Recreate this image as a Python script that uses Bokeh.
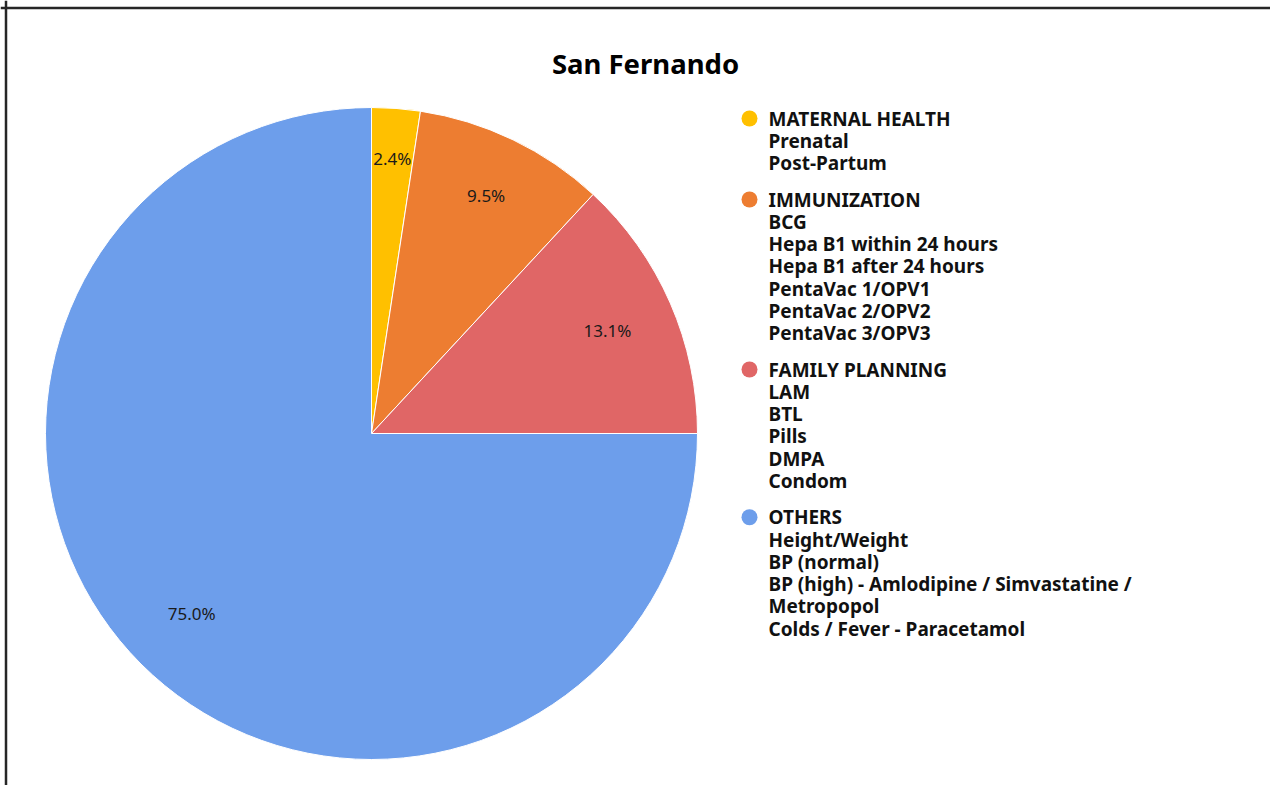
import math
from bokeh.plotting import figure
from bokeh.models import Range1d, ColumnDataSource, Span
from bokeh.core.properties import value
from bokeh.embed import file_html
from bokeh.resources import INLINE

# ---- data ----
title_text = "San Fernando"
categories = ["MATERNAL HEALTH", "IMMUNIZATION", "FAMILY PLANNING", "OTHERS"]
shares = [2.4, 9.5, 13.1, 75.0]
sub_items = [
    ["Prenatal", "Post-Partum"],
    ["BCG", "Hepa B1 within 24 hours", "Hepa B1 after 24 hours",
     "PentaVac 1/OPV1", "PentaVac 2/OPV2", "PentaVac 3/OPV3"],
    ["LAM", "BTL", "Pills", "DMPA", "Condom"],
    ["Height/Weight", "BP (normal)", "BP (high) - Amlodipine / Simvastatine /",
     "Metropopol", "Colds / Fever - Paracetamol"],
]
colors = ["#FFC000", "#ED7D31", "#E06666", "#6D9EEB"]

# ---- layout (pixels, y measured from top) ----
W, H = 1270, 785
FONT = "Noto Sans"
def Y(top):
    return H - top
cx, cy, R = 371, Y(433), 326
label_frac = [0.845, 0.81, 0.79, 0.78]

p = figure(width=W, height=H, output_backend="svg", toolbar_location=None,
           x_range=Range1d(0, W), y_range=Range1d(0, H), min_border=0)
p.axis.visible = False
p.grid.visible = False
p.outline_line_color = None
p.background_fill_color = "white"

# frame border (left and top only visible in the reference)
p.add_layout(Span(location=5.5, dimension="height", line_color="#262626", line_width=2.5))
p.add_layout(Span(location=Y(7.5), dimension="width", line_color="#262626", line_width=2.5))

total = sum(shares)
starts, ends, lx, ly, ltxt = [], [], [], [], []
acc = 0.0
for i, s in enumerate(shares):
    a0 = math.pi / 2 - 2 * math.pi * acc / total
    a1 = math.pi / 2 - 2 * math.pi * (acc + s) / total
    starts.append(a0)
    ends.append(a1)
    mid = (a0 + a1) / 2
    lx.append(cx + R * label_frac[i] * math.cos(mid))
    ly.append(cy + R * label_frac[i] * math.sin(mid))
    ltxt.append(f"{s:.1f}%")
    acc += s

src = ColumnDataSource(dict(start=starts, end=ends, color=colors))
p.wedge(x=cx, y=cy, radius=R, start_angle="start", end_angle="end",
        direction="clock", fill_color="color", line_color="white",
        line_width=1, source=src)

p.text(x=lx, y=ly, text=ltxt, text_align="center", text_baseline="middle",
       text_font=value(FONT), text_font_size="17px", text_color="#1a1a1a")

# title
p.text(x=[645], y=[Y(63)], text=[title_text], text_align="center",
       text_baseline="middle", text_font=value(FONT), text_font_size="27.5px",
       text_font_style="bold", text_color="#000000")

# legend
leg_x_dot, leg_x_txt = 749, 768
y = Y(118)
step, gap = 22.25, 14.25
dot_x, dot_y, tx, ty, tt = [], [], [], [], []
for cat, items in zip(categories, sub_items):
    dot_x.append(leg_x_dot)
    dot_y.append(y)
    tx.append(leg_x_txt); ty.append(y); tt.append(cat)
    y -= step
    for it in items:
        tx.append(leg_x_txt); ty.append(y); tt.append(it)
        y -= step
    y -= gap

p.scatter(x=dot_x, y=dot_y, size=16, marker="circle", fill_color=colors,
          line_color=None)
p.text(x=tx, y=ty, text=tt, text_align="left", text_baseline="middle",
       text_font=value(FONT), text_font_size="19px", text_font_style="bold",
       text_color="#111111")

open("out.html", "w").write(file_html(p, INLINE))
